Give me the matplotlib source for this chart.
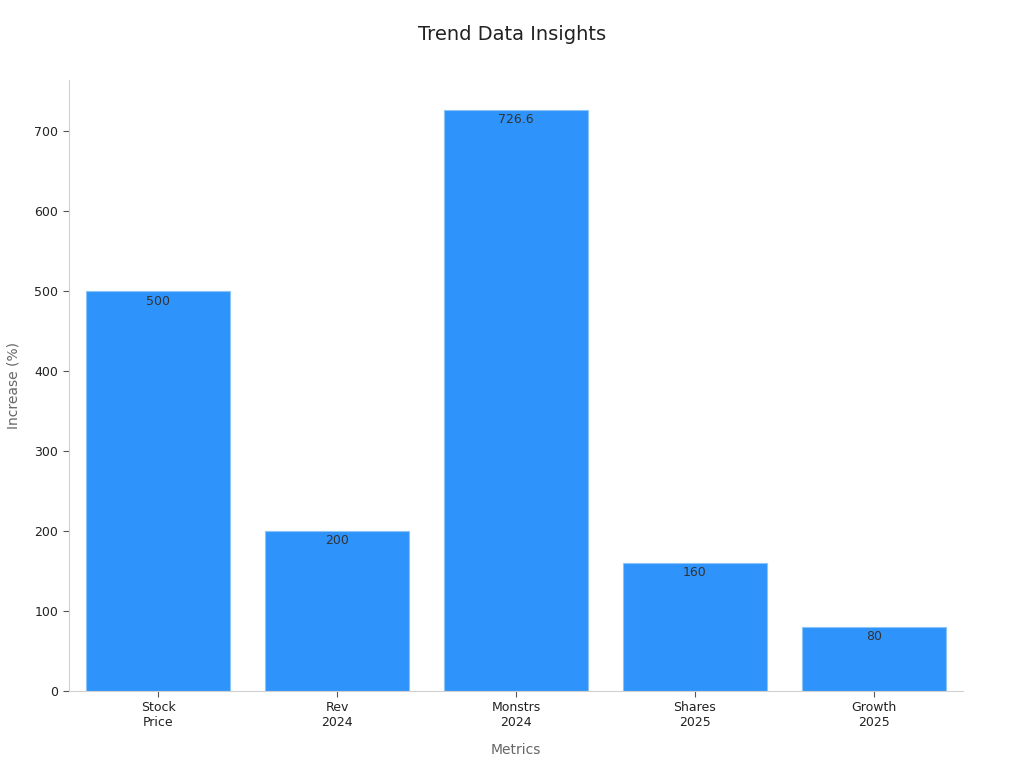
import matplotlib
matplotlib.use("Agg")
from matplotlib import pyplot as plt

categories = ["Stock\nPrice", "Rev\n2024", "Monstrs\n2024", "Shares\n2025", "Growth\n2025"]
values = [500, 200, 726.6, 160, 80]
value_labels = ["500", "200", "726.6", "160", "80"]
yticks = [0, 100, 200, 300, 400, 500, 600, 700]

fig = plt.figure(figsize=(10.24, 7.68), dpi=100)
ax = fig.add_axes([0.0669, 0.1003, 0.874, 0.7955])

x = range(len(categories))
bars = ax.bar(x, values, width=0.8, color="#2E93FA", edgecolor="#8CC4F5", linewidth=0.8)

for b, lab in zip(bars, value_labels):
    ax.annotate(lab, (b.get_x() + b.get_width() / 2, b.get_height()),
                xytext=(0, -2.5), textcoords="offset points",
                ha="center", va="top", fontsize=9, color="#333333")

ax.set_xlim(-0.5, 4.5)
ax.set_ylim(0, 763.9)
ax.set_xticks(list(x))
ax.set_xticklabels(categories, fontsize=9, color="#222222")
ax.set_yticks(yticks)
ax.set_yticklabels([str(t) for t in yticks], fontsize=9, color="#222222")

for side in ["top", "right"]:
    ax.spines[side].set_visible(False)
for side in ["left", "bottom"]:
    ax.spines[side].set_color("#d0d0d0")
ax.tick_params(axis="both", colors="#555555", labelcolor="#222222", length=4)

ax.set_xlabel("Metrics", fontsize=10, color="#666666", labelpad=10)
ax.set_ylabel("Increase (%)", fontsize=10, color="#666666", labelpad=10)
fig.suptitle("Trend Data Insights", fontsize=14, color="#222222", y=0.968)

fig.savefig("out.png", dpi=100)
